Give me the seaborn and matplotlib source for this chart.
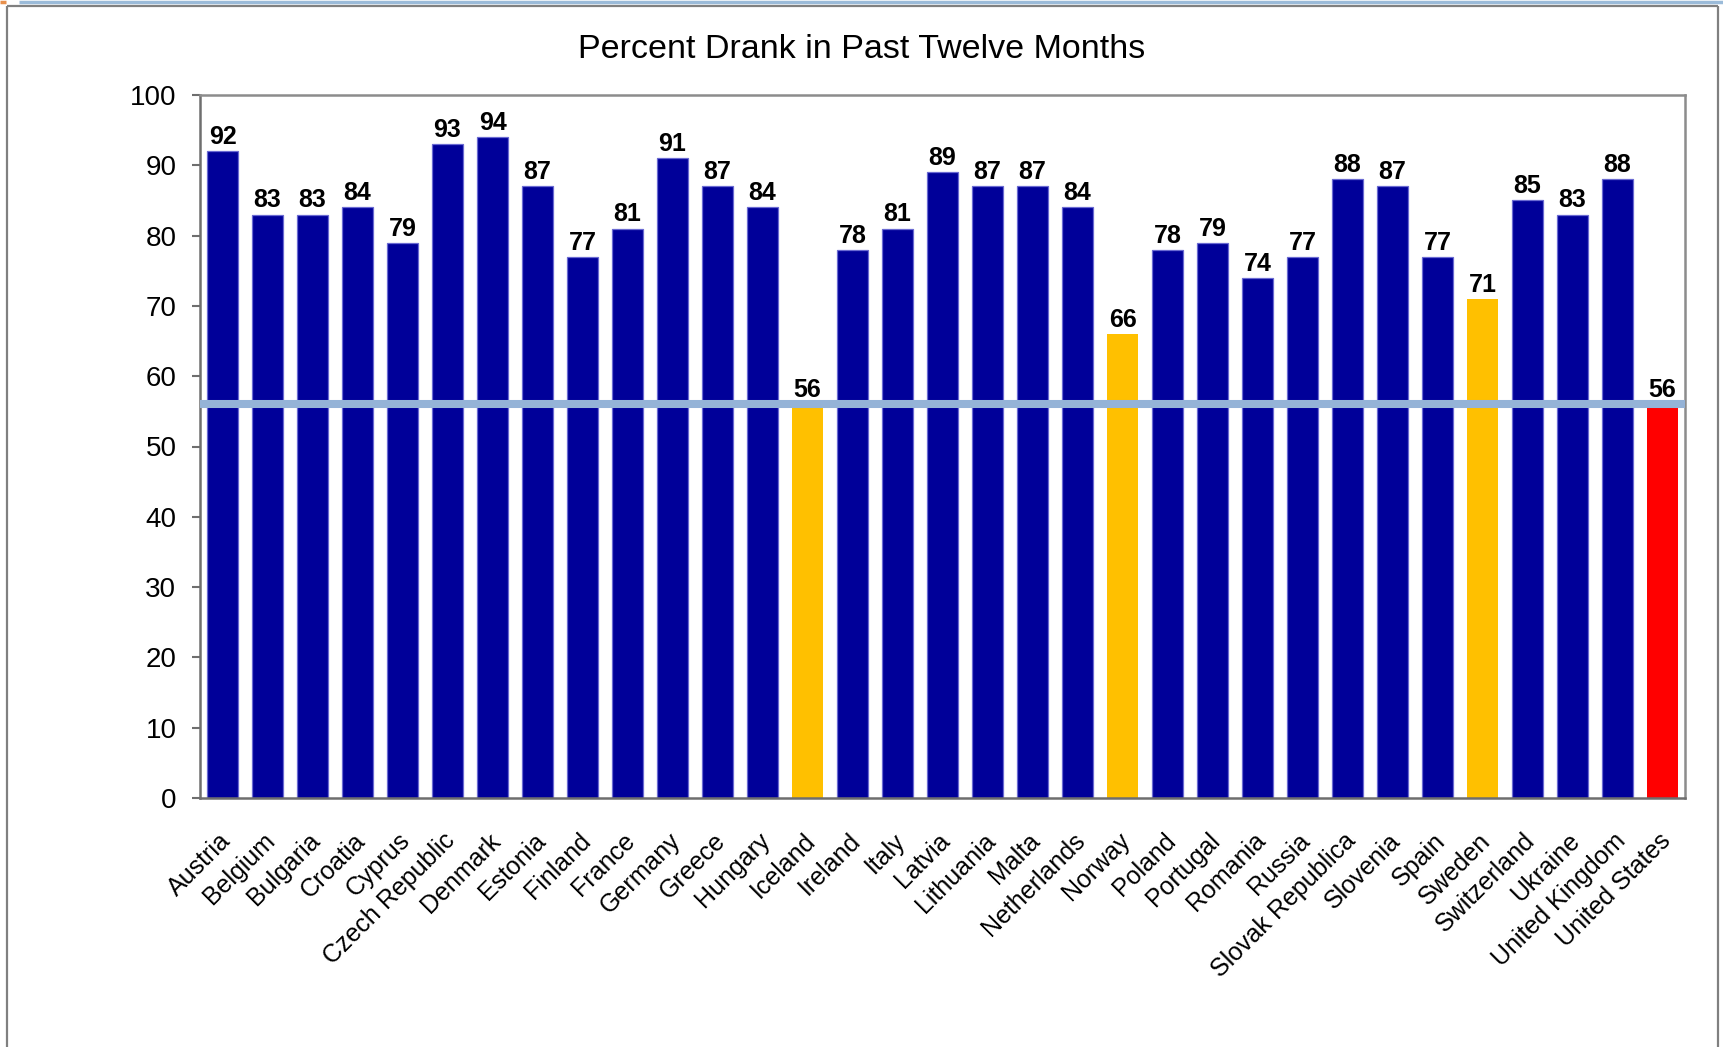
import matplotlib
matplotlib.use("Agg")
import matplotlib.pyplot as plt
import matplotlib.lines as mlines
import matplotlib.transforms as mtransforms
import seaborn as sns
import pandas as pd

# Share of adults who drank alcohol in the past twelve months, by country
countries = [
    "Austria", "Belgium", "Bulgaria", "Croatia", "Cyprus", "Czech Republic",
    "Denmark", "Estonia", "Finland", "France", "Germany", "Greece", "Hungary",
    "Iceland", "Ireland", "Italy", "Latvia", "Lithuania", "Malta", "Netherlands",
    "Norway", "Poland", "Portugal", "Romania", "Russia", "Slovak Republica",
    "Slovenia", "Spain", "Sweden", "Switzerland", "Ukraine", "United Kingdom",
    "United States",
]
percent = [
    92, 83, 83, 84, 79, 93,
    94, 87, 77, 81, 91, 87, 84,
    56, 78, 81, 89, 87, 87, 84,
    66, 78, 79, 74, 77, 88,
    87, 77, 71, 85, 83, 88,
    56,
]
low_countries = ["Iceland", "Norway", "Sweden"]
reference_country = "United States"

group_colors = {"other": "#000099", "low": "#FFC000", "reference": "#FF0000"}

groups = [
    "reference" if c == reference_country else ("low" if c in low_countries else "other")
    for c in countries
]
df = pd.DataFrame({"country": countries, "percent": percent, "group": groups})

sns.set_style("white")
plt.rcParams["font.family"] = ["Liberation Sans", "DejaVu Sans"]

W, H = 1723, 1047
fig = plt.figure(figsize=(W / 100, H / 100), dpi=100)
ax = fig.add_axes([200 / W, 1 - 798 / H, 1485 / W, 703 / H])

sns.barplot(
    data=df, x="country", y="percent", hue="group", palette=group_colors,
    dodge=False, width=0.71, saturation=1, legend=False, ax=ax, zorder=2,
)

# thin lighter outline on the blue bars only
for patch in ax.patches:
    fc = patch.get_facecolor()
    if fc[2] > 0.5 and fc[0] < 0.1:
        patch.set_edgecolor("#6a6ad2")
        patch.set_linewidth(0.9)
    else:
        patch.set_edgecolor(fc)
        patch.set_linewidth(0)

# reference level line at the United States value
ref_value = percent[countries.index(reference_country)]
ax.axhline(ref_value, color="#95B3D7", lw=5.8, zorder=3)

for container in ax.containers:
    ax.bar_label(
        container, fmt="%g", padding=1.5, fontsize=18, fontweight="bold",
        family=["Liberation Sans Narrow", "Liberation Sans", "DejaVu Sans"],
        color="black", zorder=4,
    )

ax.set_xlim(-0.5, len(countries) - 0.5)
ax.set_ylim(0, 100)
ax.set_yticks(range(0, 101, 10))
ax.set_xticks(range(len(countries)))
ax.set_xticklabels(countries, rotation=45, ha="right", va="center",
                   rotation_mode="anchor", fontsize=18)
ax.tick_params(axis="x", length=0, pad=28, colors="black")
ax.tick_params(axis="y", left=True, length=6, width=1.5, color="#6e6e6e",
               pad=11, labelsize=20, labelcolor="black", direction="out")
ax.set_xlabel("")
ax.set_ylabel("")

shift = mtransforms.ScaledTranslation(4 / 100, 0, fig.dpi_scale_trans)
for lab in ax.get_xticklabels():
    lab.set_transform(lab.get_transform() + shift)

for side in ["left", "bottom"]:
    ax.spines[side].set_color("#6e6e6e")
    ax.spines[side].set_linewidth(1.8)
for side in ["top", "right"]:
    ax.spines[side].set_color("#8c8c8c")
    ax.spines[side].set_linewidth(1.8)
    ax.spines[side].set_visible(True)

fig.text(862 / W, 1 - 50 / H, "Percent Drank in Past Twelve Months",
         ha="center", va="center", fontsize=24.5, color="black")

# slide frame and header strip
def px_line(x0, y0, x1, y1, color, lw):
    fig.add_artist(mlines.Line2D([x0 / W, x1 / W], [1 - y0 / H, 1 - y1 / H],
                                 transform=fig.transFigure, color=color, lw=lw,
                                 solid_capstyle="butt"))

px_line(19, 1.5, W, 1.5, "#9BBBD9", 2.5)
px_line(0, 1.5, 6, 1.5, "#E8904C", 2.5)
px_line(7, 6, 1718, 6, "#808080", 1.6)
px_line(7, 6, 7, H, "#808080", 1.6)
px_line(1718, 6, 1718, H, "#808080", 1.6)

fig.savefig("out.png", dpi=100)
